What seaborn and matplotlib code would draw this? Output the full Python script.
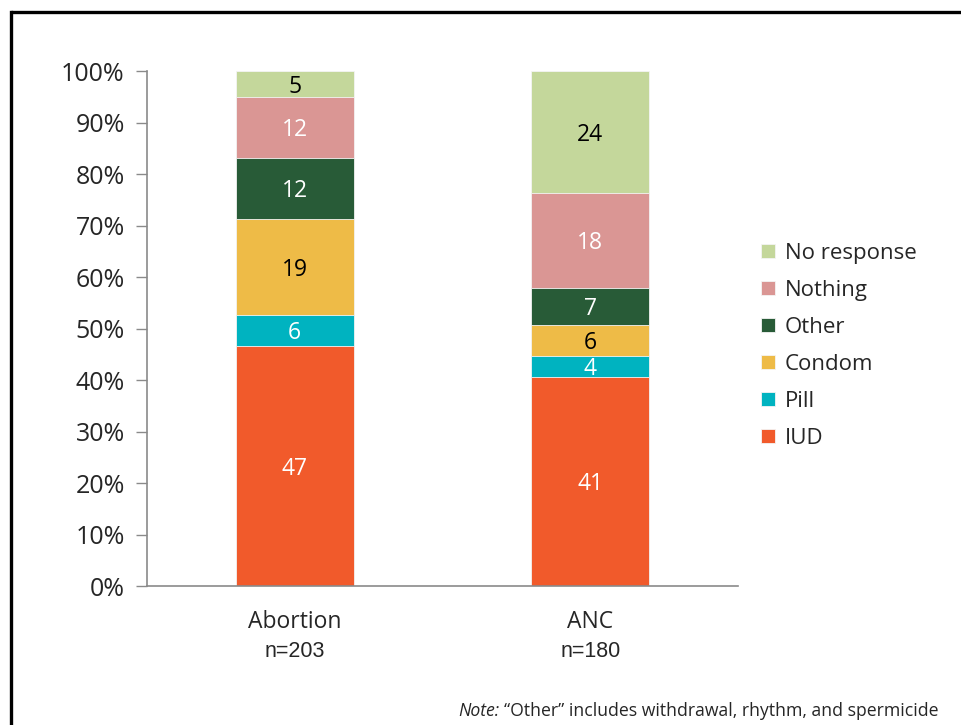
import matplotlib
matplotlib.use("Agg")
import matplotlib.pyplot as plt
from matplotlib.lines import Line2D
import numpy as np
import pandas as pd
import seaborn as sns

# Contraceptive method chosen, percent of women in each group
groups = ["Abortion", "ANC"]
group_n = ["n=203", "n=180"]
methods = ["IUD", "Pill", "Condom", "Other", "Nothing", "No response"]
abortion_pct = [46.6, 6.0, 18.7, 11.8, 11.8, 5.1]
anc_pct = [40.6, 4.1, 6.0, 7.2, 18.4, 23.7]
colors = ["#F15A2B", "#00B3C0", "#EEBB47", "#285B37", "#DA9694", "#C4D79B"]
label_colors = ["white", "white", "black", "white", "white", "black"]
y_ticks = list(range(0, 101, 10))

sns.set_theme(style="white")
plt.rcParams["font.family"] = ["Open Sans", "DejaVu Sans"]

fig = plt.figure(figsize=(9.61, 7.25), dpi=100)
ax = fig.add_axes([0.153, 0.1917, 0.615, 0.7103])

df = pd.DataFrame({"group": groups * len(methods),
                   "method": np.repeat(methods, len(groups)),
                   "pct": [v for pair in zip(abortion_pct, anc_pct) for v in pair]})
df["method"] = pd.Categorical(df["method"], methods, ordered=True)
df = df.sort_values(["group", "method"])
df["top"] = df.groupby("group", sort=False)["pct"].cumsum()
df["mid"] = df["top"] - df["pct"] / 2

# Stack by drawing cumulative heights from the tallest layer down
for m, c in reversed(list(zip(methods, colors))):
    sub = df[df["method"] == m]
    sns.barplot(data=sub, x="group", y="top", order=groups, color=c,
                width=0.4, saturation=1, edgecolor="#f4f4f4", linewidth=0.6,
                ax=ax, label=m)

gi = {g: i for i, g in enumerate(groups)}
for _, r in df.iterrows():
    lc = label_colors[methods.index(r["method"])]
    ax.text(gi[r["group"]], r["mid"] - 0.5, f"{round(r['pct']):d}", ha="center",
            va="center", fontsize=16.5, color=lc)

ax.set_xlim(-0.5, 1.5)
ax.set_ylim(0, 100)
ax.set_yticks(y_ticks)
ax.set_yticklabels([f"{t}%" for t in y_ticks], fontsize=18)
ax.set_xticks([0, 1])
ax.set_xticklabels(groups, fontsize=16.5)
ax.tick_params(axis="x", length=0, pad=17)
ax.tick_params(axis="y", length=8, width=1, color="#8a8a8a", pad=8, left=True)
ax.set_xlabel("")
ax.set_ylabel("")
for s in ["top", "right"]:
    ax.spines[s].set_visible(False)
for s in ["left", "bottom"]:
    ax.spines[s].set_color("#8a8a8a")
    ax.spines[s].set_linewidth(1.2)

for i, n in enumerate(group_n):
    ax.text(i, -0.128, n, transform=ax.get_xaxis_transform(), ha="center",
            va="center", fontsize=15.5, family=["Liberation Sans", "DejaVu Sans"])

handles, labels = ax.get_legend_handles_labels()
order = [labels.index(m) for m in reversed(methods)]
if ax.get_legend() is not None:
    ax.get_legend().remove()
fig.legend([handles[i] for i in order], [labels[i] for i in order],
           loc="upper left", bbox_to_anchor=(0.783, 0.677), frameon=False,
           fontsize=16, handlelength=0.6, handleheight=0.6, handletextpad=0.45,
           labelspacing=0.72, borderaxespad=0)

# Footnote: italic lead-in followed by the plain remainder
note_lead = fig.text(0.477, 0.019, "Note:", ha="left", va="center",
                     fontsize=12.7, style="italic")
fig.canvas.draw()
bb = note_lead.get_window_extent().transformed(fig.transFigure.inverted())
fig.text(bb.x1 + 0.005, 0.019,
         "\u201cOther\u201d includes withdrawal, rhythm, and spermicide",
         ha="left", va="center", fontsize=12.7)

# Page frame (top and left edges)
fig.add_artist(Line2D([0.0114, 1.0], [0.9834, 0.9834], color="black", lw=2.4,
                      solid_capstyle="butt", transform=fig.transFigure))
fig.add_artist(Line2D([0.0114, 0.0114], [0.0, 0.9834], color="black", lw=2.4,
                      solid_capstyle="projecting", transform=fig.transFigure))

fig.savefig("out.png", dpi=100, facecolor="white")
